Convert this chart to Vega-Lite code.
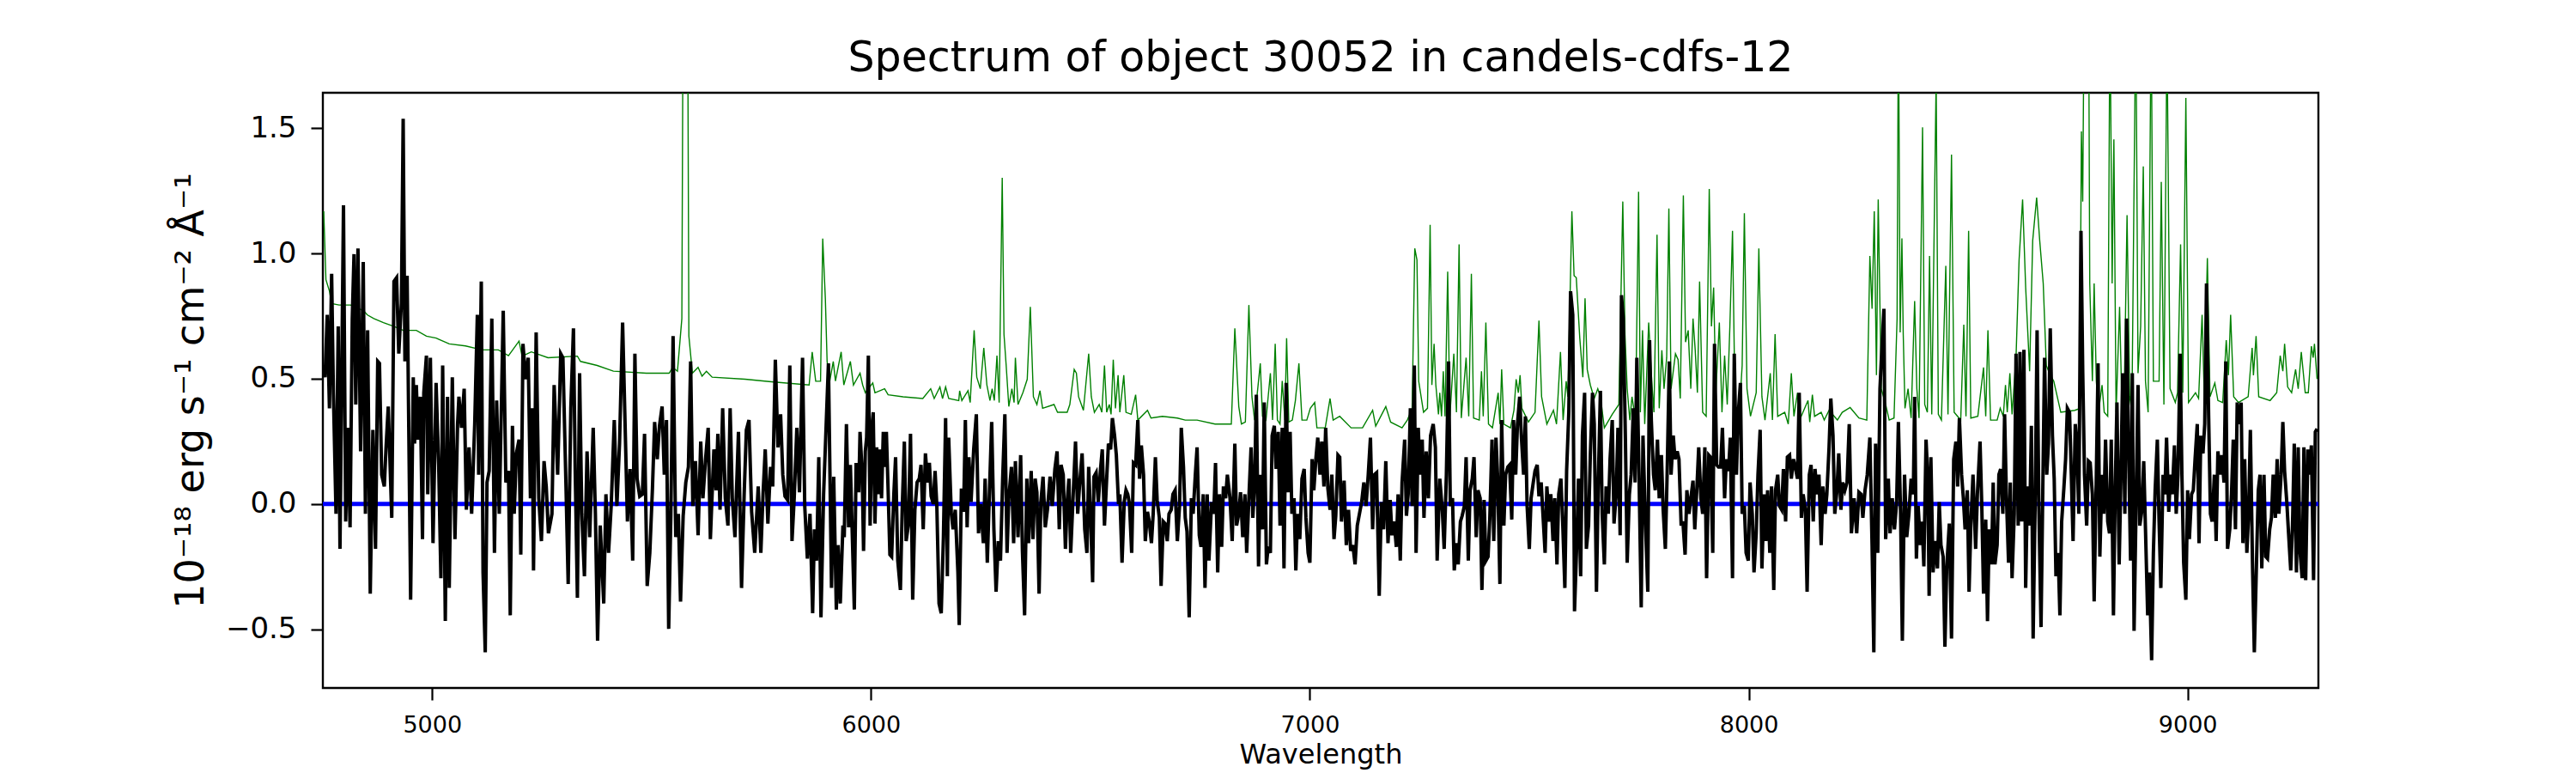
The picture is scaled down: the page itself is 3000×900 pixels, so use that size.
{
  "$schema": "https://vega.github.io/schema/vega-lite/v6.json",
  "description": "Spectrum of object 30052 in candels-cdfs-12: flux (black), noise (green), zero level (blue).",
  "autosize": "none",
  "width": 2324,
  "height": 693,
  "padding": {"left": 376, "top": 108, "right": 300, "bottom": 99},
  "background": "white",
  "title": {
    "text": "Spectrum of object 30052 in candels-cdfs-12",
    "font": "DejaVu Sans",
    "fontSize": 49,
    "fontWeight": "normal",
    "color": "black",
    "anchor": "middle",
    "baseline": "bottom",
    "offset": 14,
    "dy": 48
  },
  "config": {
    "view": {"stroke": "black", "strokeWidth": 2.4},
    "axis": {
      "domain": false,
      "grid": false,
      "tickColor": "black",
      "tickWidth": 2.2,
      "tickSize": 14,
      "labelColor": "black",
      "titleColor": "black",
      "labelFont": "DejaVu Sans",
      "titleFont": "DejaVu Sans",
      "titleFontWeight": "normal"
    }
  },
  "datasets": {
    "sky": [
      {"wavelength":4753,"sigma":1.168},{"wavelength":4758,"sigma":0.895},{"wavelength":4766,"sigma":0.85},{"wavelength":4771,"sigma":0.80},{"wavelength":4788,"sigma":0.794},{"wavelength":4814,"sigma":0.794},{"wavelength":4844,"sigma":0.771},{"wavelength":4852,"sigma":0.755},{"wavelength":4867,"sigma":0.74},{"wavelength":4889,"sigma":0.724},{"wavelength":4912,"sigma":0.709},{"wavelength":4934,"sigma":0.693},{"wavelength":4964,"sigma":0.693},{"wavelength":4987,"sigma":0.67},{"wavelength":5009,"sigma":0.662},{"wavelength":5039,"sigma":0.639},{"wavelength":5076,"sigma":0.631},{"wavelength":5114,"sigma":0.615},{"wavelength":5151,"sigma":0.615},{"wavelength":5174,"sigma":0.592},{"wavelength":5198,"sigma":0.65},{"wavelength":5205,"sigma":0.59},{"wavelength":5226,"sigma":0.607},{"wavelength":5264,"sigma":0.584},{"wavelength":5331,"sigma":0.59},{"wavelength":5338,"sigma":0.569},{"wavelength":5376,"sigma":0.553},{"wavelength":5413,"sigma":0.53},{"wavelength":5488,"sigma":0.522},{"wavelength":5540,"sigma":0.522},{"wavelength":5548,"sigma":0.545},{"wavelength":5559,"sigma":0.53},{"wavelength":5569,"sigma":0.74},{"wavelength":5573,"sigma":2.6},{"wavelength":5581,"sigma":2.6},{"wavelength":5585,"sigma":0.67},{"wavelength":5593,"sigma":0.522},{"wavelength":5606,"sigma":0.545},{"wavelength":5615,"sigma":0.51},{"wavelength":5625,"sigma":0.53},{"wavelength":5638,"sigma":0.506},{"wavelength":5713,"sigma":0.498},{"wavelength":5773,"sigma":0.488},{"wavelength":5859,"sigma":0.475},{"wavelength":5866,"sigma":0.607},{"wavelength":5874,"sigma":0.49},{"wavelength":5885,"sigma":0.49},{"wavelength":5890,"sigma":1.059},{"wavelength":5896,"sigma":0.818},{"wavelength":5900,"sigma":0.569},{"wavelength":5906,"sigma":0.491},{"wavelength":5914,"sigma":0.569},{"wavelength":5919,"sigma":0.491},{"wavelength":5932,"sigma":0.607},{"wavelength":5938,"sigma":0.475},{"wavelength":5953,"sigma":0.569},{"wavelength":5960,"sigma":0.475},{"wavelength":5975,"sigma":0.522},{"wavelength":5981,"sigma":0.475},{"wavelength":5987,"sigma":0.444},{"wavelength":6004,"sigma":0.483},{"wavelength":6009,"sigma":0.444},{"wavelength":6031,"sigma":0.46},{"wavelength":6039,"sigma":0.436},{"wavelength":6073,"sigma":0.428},{"wavelength":6118,"sigma":0.421},{"wavelength":6136,"sigma":0.46},{"wavelength":6144,"sigma":0.421},{"wavelength":6157,"sigma":0.467},{"wavelength":6163,"sigma":0.421},{"wavelength":6170,"sigma":0.467},{"wavelength":6177,"sigma":0.421},{"wavelength":6200,"sigma":0.413},{"wavelength":6202,"sigma":0.452},{"wavelength":6207,"sigma":0.413},{"wavelength":6221,"sigma":0.452},{"wavelength":6226,"sigma":0.405},{"wavelength":6235,"sigma":0.693},{"wavelength":6241,"sigma":0.506},{"wavelength":6249,"sigma":0.46},{"wavelength":6257,"sigma":0.623},{"wavelength":6264,"sigma":0.475},{"wavelength":6271,"sigma":0.413},{"wavelength":6276,"sigma":0.46},{"wavelength":6281,"sigma":0.413},{"wavelength":6287,"sigma":0.592},{"wavelength":6292,"sigma":0.405},{"wavelength":6299,"sigma":1.302},{"wavelength":6303,"sigma":0.677},{"wavelength":6308,"sigma":0.553},{"wavelength":6314,"sigma":0.389},{"wavelength":6321,"sigma":0.46},{"wavelength":6326,"sigma":0.405},{"wavelength":6329,"sigma":0.584},{"wavelength":6335,"sigma":0.397},{"wavelength":6346,"sigma":0.444},{"wavelength":6356,"sigma":0.498},{"wavelength":6363,"sigma":0.787},{"wavelength":6370,"sigma":0.428},{"wavelength":6378,"sigma":0.397},{"wavelength":6385,"sigma":0.452},{"wavelength":6391,"sigma":0.382},{"wavelength":6417,"sigma":0.397},{"wavelength":6425,"sigma":0.366},{"wavelength":6447,"sigma":0.366},{"wavelength":6453,"sigma":0.397},{"wavelength":6463,"sigma":0.537},{"wavelength":6468,"sigma":0.522},{"wavelength":6473,"sigma":0.428},{"wavelength":6484,"sigma":0.374},{"wavelength":6496,"sigma":0.6},{"wavelength":6502,"sigma":0.428},{"wavelength":6509,"sigma":0.366},{"wavelength":6520,"sigma":0.397},{"wavelength":6526,"sigma":0.366},{"wavelength":6532,"sigma":0.553},{"wavelength":6537,"sigma":0.366},{"wavelength":6543,"sigma":0.397},{"wavelength":6547,"sigma":0.358},{"wavelength":6552,"sigma":0.576},{"wavelength":6557,"sigma":0.382},{"wavelength":6563,"sigma":0.514},{"wavelength":6567,"sigma":0.366},{"wavelength":6576,"sigma":0.514},{"wavelength":6581,"sigma":0.366},{"wavelength":6593,"sigma":0.358},{"wavelength":6603,"sigma":0.436},{"wavelength":6608,"sigma":0.335},{"wavelength":6630,"sigma":0.374},{"wavelength":6638,"sigma":0.343},{"wavelength":6664,"sigma":0.35},{"wavelength":6698,"sigma":0.343},{"wavelength":6716,"sigma":0.335},{"wavelength":6743,"sigma":0.335},{"wavelength":6784,"sigma":0.319},{"wavelength":6821,"sigma":0.319},{"wavelength":6829,"sigma":0.701},{"wavelength":6838,"sigma":0.389},{"wavelength":6844,"sigma":0.319},{"wavelength":6853,"sigma":0.327},{"wavelength":6861,"sigma":0.794},{"wavelength":6868,"sigma":0.428},{"wavelength":6874,"sigma":0.335},{"wavelength":6887,"sigma":0.561},{"wavelength":6892,"sigma":0.35},{"wavelength":6900,"sigma":0.335},{"wavelength":6910,"sigma":0.522},{"wavelength":6915,"sigma":0.335},{"wavelength":6921,"sigma":0.639},{"wavelength":6926,"sigma":0.335},{"wavelength":6932,"sigma":0.319},{"wavelength":6937,"sigma":0.491},{"wavelength":6943,"sigma":0.335},{"wavelength":6947,"sigma":0.662},{"wavelength":6952,"sigma":0.327},{"wavelength":6960,"sigma":0.335},{"wavelength":6967,"sigma":0.413},{"wavelength":6975,"sigma":0.561},{"wavelength":6982,"sigma":0.335},{"wavelength":6993,"sigma":0.335},{"wavelength":7001,"sigma":0.382},{"wavelength":7011,"sigma":0.405},{"wavelength":7016,"sigma":0.304},{"wavelength":7035,"sigma":0.304},{"wavelength":7046,"sigma":0.421},{"wavelength":7053,"sigma":0.335},{"wavelength":7068,"sigma":0.35},{"wavelength":7094,"sigma":0.304},{"wavelength":7120,"sigma":0.304},{"wavelength":7143,"sigma":0.374},{"wavelength":7150,"sigma":0.311},{"wavelength":7173,"sigma":0.389},{"wavelength":7184,"sigma":0.327},{"wavelength":7210,"sigma":0.304},{"wavelength":7222,"sigma":0.335},{"wavelength":7233,"sigma":0.381},{"wavelength":7239,"sigma":1.02},{"wavelength":7244,"sigma":0.974},{"wavelength":7248,"sigma":0.49},{"wavelength":7259,"sigma":0.366},{"wavelength":7268,"sigma":0.382},{"wavelength":7274,"sigma":1.114},{"wavelength":7278,"sigma":0.475},{"wavelength":7283,"sigma":0.639},{"wavelength":7287,"sigma":0.475},{"wavelength":7293,"sigma":0.358},{"wavelength":7296,"sigma":0.444},{"wavelength":7300,"sigma":0.35},{"wavelength":7304,"sigma":0.53},{"wavelength":7308,"sigma":0.35},{"wavelength":7314,"sigma":0.927},{"wavelength":7319,"sigma":0.35},{"wavelength":7328,"sigma":0.6},{"wavelength":7334,"sigma":0.366},{"wavelength":7340,"sigma":1.036},{"wavelength":7345,"sigma":0.343},{"wavelength":7356,"sigma":0.584},{"wavelength":7362,"sigma":0.35},{"wavelength":7368,"sigma":0.919},{"wavelength":7373,"sigma":0.343},{"wavelength":7386,"sigma":0.335},{"wavelength":7391,"sigma":0.53},{"wavelength":7395,"sigma":0.35},{"wavelength":7401,"sigma":0.724},{"wavelength":7407,"sigma":0.319},{"wavelength":7416,"sigma":0.304},{"wavelength":7429,"sigma":0.444},{"wavelength":7433,"sigma":0.319},{"wavelength":7437,"sigma":0.537},{"wavelength":7442,"sigma":0.319},{"wavelength":7457,"sigma":0.304},{"wavelength":7465,"sigma":0.374},{"wavelength":7470,"sigma":0.498},{"wavelength":7475,"sigma":0.444},{"wavelength":7479,"sigma":0.514},{"wavelength":7483,"sigma":0.382},{"wavelength":7498,"sigma":0.327},{"wavelength":7513,"sigma":0.366},{"wavelength":7522,"sigma":0.732},{"wavelength":7528,"sigma":0.428},{"wavelength":7540,"sigma":0.319},{"wavelength":7555,"sigma":0.374},{"wavelength":7562,"sigma":0.319},{"wavelength":7571,"sigma":0.607},{"wavelength":7577,"sigma":0.335},{"wavelength":7584,"sigma":0.49},{"wavelength":7588,"sigma":0.428},{"wavelength":7597,"sigma":1.168},{"wavelength":7602,"sigma":0.911},{"wavelength":7607,"sigma":0.903},{"wavelength":7615,"sigma":0.662},{"wavelength":7622,"sigma":0.506},{"wavelength":7627,"sigma":0.821},{"wavelength":7632,"sigma":0.537},{"wavelength":7639,"sigma":0.475},{"wavelength":7648,"sigma":0.421},{"wavelength":7656,"sigma":0.46},{"wavelength":7662,"sigma":0.428},{"wavelength":7671,"sigma":0.304},{"wavelength":7689,"sigma":0.358},{"wavelength":7704,"sigma":0.397},{"wavelength":7713,"sigma":1.207},{"wavelength":7718,"sigma":0.677},{"wavelength":7723,"sigma":0.46},{"wavelength":7729,"sigma":0.335},{"wavelength":7734,"sigma":0.428},{"wavelength":7742,"sigma":0.335},{"wavelength":7749,"sigma":1.246},{"wavelength":7753,"sigma":0.366},{"wavelength":7758,"sigma":0.693},{"wavelength":7763,"sigma":0.319},{"wavelength":7772,"sigma":0.724},{"wavelength":7779,"sigma":0.49},{"wavelength":7784,"sigma":0.366},{"wavelength":7791,"sigma":1.075},{"wavelength":7796,"sigma":0.382},{"wavelength":7802,"sigma":0.614},{"wavelength":7807,"sigma":0.46},{"wavelength":7813,"sigma":0.584},{"wavelength":7818,"sigma":1.179},{"wavelength":7823,"sigma":0.46},{"wavelength":7833,"sigma":0.6},{"wavelength":7839,"sigma":0.576},{"wavelength":7844,"sigma":0.421},{"wavelength":7851,"sigma":1.231},{"wavelength":7856,"sigma":0.646},{"wavelength":7862,"sigma":0.693},{"wavelength":7868,"sigma":0.46},{"wavelength":7873,"sigma":0.74},{"wavelength":7878,"sigma":0.615},{"wavelength":7883,"sigma":0.444},{"wavelength":7888,"sigma":0.888},{"wavelength":7895,"sigma":0.366},{"wavelength":7903,"sigma":0.35},{"wavelength":7910,"sigma":1.257},{"wavelength":7915,"sigma":0.709},{"wavelength":7920,"sigma":0.864},{"wavelength":7925,"sigma":0.444},{"wavelength":7933,"sigma":0.724},{"wavelength":7939,"sigma":0.366},{"wavelength":7945,"sigma":0.592},{"wavelength":7951,"sigma":0.397},{"wavelength":7957,"sigma":0.709},{"wavelength":7963,"sigma":1.09},{"wavelength":7969,"sigma":0.366},{"wavelength":7978,"sigma":0.35},{"wavelength":7985,"sigma":0.553},{"wavelength":7990,"sigma":1.16},{"wavelength":7996,"sigma":0.46},{"wavelength":8004,"sigma":0.35},{"wavelength":8017,"sigma":0.444},{"wavelength":8023,"sigma":1.02},{"wavelength":8030,"sigma":0.428},{"wavelength":8037,"sigma":0.335},{"wavelength":8049,"sigma":0.522},{"wavelength":8054,"sigma":0.335},{"wavelength":8060,"sigma":0.678},{"wavelength":8066,"sigma":0.35},{"wavelength":8082,"sigma":0.366},{"wavelength":8090,"sigma":0.319},{"wavelength":8097,"sigma":0.522},{"wavelength":8103,"sigma":0.35},{"wavelength":8111,"sigma":0.444},{"wavelength":8116,"sigma":0.335},{"wavelength":8135,"sigma":0.413},{"wavelength":8139,"sigma":0.327},{"wavelength":8145,"sigma":0.436},{"wavelength":8150,"sigma":0.35},{"wavelength":8165,"sigma":0.366},{"wavelength":8172,"sigma":0.335},{"wavelength":8183,"sigma":0.374},{"wavelength":8202,"sigma":0.335},{"wavelength":8213,"sigma":0.366},{"wavelength":8231,"sigma":0.385},{"wavelength":8251,"sigma":0.343},{"wavelength":8269,"sigma":0.335},{"wavelength":8276,"sigma":0.99},{"wavelength":8281,"sigma":0.779},{"wavelength":8286,"sigma":1.168},{"wavelength":8291,"sigma":0.514},{"wavelength":8295,"sigma":1.215},{"wavelength":8302,"sigma":0.46},{"wavelength":8312,"sigma":0.397},{"wavelength":8320,"sigma":0.335},{"wavelength":8331,"sigma":0.343},{"wavelength":8338,"sigma":0.74},{"wavelength":8341,"sigma":2.0},{"wavelength":8345,"sigma":0.685},{"wavelength":8349,"sigma":1.06},{"wavelength":8352,"sigma":0.678},{"wavelength":8356,"sigma":0.382},{"wavelength":8363,"sigma":0.46},{"wavelength":8370,"sigma":0.343},{"wavelength":8378,"sigma":0.81},{"wavelength":8383,"sigma":0.46},{"wavelength":8388,"sigma":0.343},{"wavelength":8396,"sigma":1.503},{"wavelength":8401,"sigma":0.397},{"wavelength":8407,"sigma":0.366},{"wavelength":8412,"sigma":0.99},{"wavelength":8417,"sigma":0.358},{"wavelength":8427,"sigma":1.7},{"wavelength":8432,"sigma":0.358},{"wavelength":8439,"sigma":0.335},{"wavelength":8449,"sigma":0.95},{"wavelength":8454,"sigma":0.358},{"wavelength":8462,"sigma":1.394},{"wavelength":8468,"sigma":0.366},{"wavelength":8483,"sigma":0.335},{"wavelength":8490,"sigma":0.716},{"wavelength":8495,"sigma":0.35},{"wavelength":8501,"sigma":1.09},{"wavelength":8506,"sigma":0.343},{"wavelength":8522,"sigma":0.35},{"wavelength":8535,"sigma":0.545},{"wavelength":8540,"sigma":0.35},{"wavelength":8545,"sigma":0.693},{"wavelength":8551,"sigma":0.335},{"wavelength":8566,"sigma":0.335},{"wavelength":8573,"sigma":0.382},{"wavelength":8580,"sigma":0.35},{"wavelength":8585,"sigma":0.475},{"wavelength":8589,"sigma":0.366},{"wavelength":8595,"sigma":0.522},{"wavelength":8600,"sigma":0.358},{"wavelength":8609,"sigma":0.584},{"wavelength":8616,"sigma":0.974},{"wavelength":8624,"sigma":1.215},{"wavelength":8631,"sigma":0.864},{"wavelength":8640,"sigma":0.53},{"wavelength":8647,"sigma":1.051},{"wavelength":8656,"sigma":1.223},{"wavelength":8663,"sigma":1.051},{"wavelength":8671,"sigma":0.88},{"wavelength":8678,"sigma":0.553},{"wavelength":8685,"sigma":0.522},{"wavelength":8695,"sigma":0.49},{"wavelength":8703,"sigma":0.428},{"wavelength":8711,"sigma":0.366},{"wavelength":8743,"sigma":0.374},{"wavelength":8754,"sigma":0.381},{"wavelength":8758,"sigma":1.487},{"wavelength":8761,"sigma":1.207},{"wavelength":8765,"sigma":2.2},{"wavelength":8774,"sigma":2.2},{"wavelength":8777,"sigma":0.88},{"wavelength":8783,"sigma":0.49},{"wavelength":8787,"sigma":0.88},{"wavelength":8792,"sigma":0.49},{"wavelength":8797,"sigma":0.366},{"wavelength":8805,"sigma":0.475},{"wavelength":8810,"sigma":0.366},{"wavelength":8818,"sigma":0.35},{"wavelength":8823,"sigma":2.0},{"wavelength":8828,"sigma":0.88},{"wavelength":8832,"sigma":1.455},{"wavelength":8837,"sigma":0.366},{"wavelength":8845,"sigma":0.787},{"wavelength":8850,"sigma":0.413},{"wavelength":8855,"sigma":0.366},{"wavelength":8862,"sigma":1.153},{"wavelength":8868,"sigma":0.428},{"wavelength":8873,"sigma":0.366},{"wavelength":8882,"sigma":2.0},{"wavelength":8887,"sigma":0.522},{"wavelength":8893,"sigma":0.709},{"wavelength":8899,"sigma":1.347},{"wavelength":8904,"sigma":0.49},{"wavelength":8910,"sigma":0.366},{"wavelength":8917,"sigma":2.0},{"wavelength":8922,"sigma":0.49},{"wavelength":8935,"sigma":0.49},{"wavelength":8940,"sigma":1.285},{"wavelength":8946,"sigma":0.397},{"wavelength":8953,"sigma":1.9},{"wavelength":8960,"sigma":0.46},{"wavelength":8972,"sigma":0.405},{"wavelength":8977,"sigma":0.444},{"wavelength":8984,"sigma":1.036},{"wavelength":8989,"sigma":0.444},{"wavelength":8996,"sigma":1.62},{"wavelength":9002,"sigma":0.405},{"wavelength":9018,"sigma":0.444},{"wavelength":9025,"sigma":0.421},{"wavelength":9033,"sigma":0.755},{"wavelength":9038,"sigma":0.428},{"wavelength":9045,"sigma":0.981},{"wavelength":9051,"sigma":0.428},{"wavelength":9062,"sigma":0.483},{"wavelength":9069,"sigma":0.413},{"wavelength":9080,"sigma":0.405},{"wavelength":9088,"sigma":0.654},{"wavelength":9093,"sigma":0.514},{"wavelength":9098,"sigma":0.755},{"wavelength":9105,"sigma":0.428},{"wavelength":9116,"sigma":0.405},{"wavelength":9138,"sigma":0.428},{"wavelength":9147,"sigma":0.623},{"wavelength":9150,"sigma":0.514},{"wavelength":9156,"sigma":0.67},{"wavelength":9162,"sigma":0.428},{"wavelength":9188,"sigma":0.413},{"wavelength":9203,"sigma":0.444},{"wavelength":9211,"sigma":0.592},{"wavelength":9217,"sigma":0.53},{"wavelength":9221,"sigma":0.639},{"wavelength":9228,"sigma":0.467},{"wavelength":9237,"sigma":0.444},{"wavelength":9246,"sigma":0.537},{"wavelength":9252,"sigma":0.46},{"wavelength":9259,"sigma":0.607},{"wavelength":9268,"sigma":0.444},{"wavelength":9275,"sigma":0.444},{"wavelength":9282,"sigma":0.63},{"wavelength":9286,"sigma":0.584},{"wavelength":9289,"sigma":0.639},{"wavelength":9295,"sigma":0.499}
    ],
    "flux": [
      {"wavelength":4751,"flux":0.553},{"wavelength":4756,"flux":0.506},{"wavelength":4761,"flux":0.755},{"wavelength":4766,"flux":0.382},{"wavelength":4771,"flux":0.919},{"wavelength":4775,"flux":0.444},{"wavelength":4781,"flux":-0.039},{"wavelength":4786,"flux":0.709},{"wavelength":4790,"flux":-0.179},{"wavelength":4798,"flux":1.192},{"wavelength":4803,"flux":-0.07},{"wavelength":4808,"flux":0.304},{"wavelength":4813,"flux":-0.093},{"wavelength":4818,"flux":0.74},{"wavelength":4822,"flux":0.997},{"wavelength":4826,"flux":0.397},{"wavelength":4831,"flux":1.02},{"wavelength":4837,"flux":0.21},{"wavelength":4843,"flux":0.966},{"wavelength":4848,"flux":-0.039},{"wavelength":4853,"flux":0.693},{"wavelength":4859,"flux":-0.358},{"wavelength":4865,"flux":0.296},{"wavelength":4871,"flux":-0.179},{"wavelength":4876,"flux":0.569},{"wavelength":4880,"flux":0.561},{"wavelength":4885,"flux":0.117},{"wavelength":4891,"flux":0.07},{"wavelength":4895,"flux":0.226},{"wavelength":4900,"flux":0.389},{"wavelength":4908,"flux":-0.055},{"wavelength":4913,"flux":0.888},{"wavelength":4919,"flux":0.903},{"wavelength":4924,"flux":0.6},{"wavelength":4930,"flux":0.802},{"wavelength":4934,"flux":1.537},{"wavelength":4938,"flux":0.569},{"wavelength":4943,"flux":0.911},{"wavelength":4951,"flux":-0.382},{"wavelength":4957,"flux":0.506},{"wavelength":4960,"flux":0.241},{"wavelength":4964,"flux":0.475},{"wavelength":4968,"flux":0.257},{"wavelength":4973,"flux":0.428},{"wavelength":4978,"flux":-0.14},{"wavelength":4981,"flux":0.444},{"wavelength":4987,"flux":0.592},{"wavelength":4990,"flux":0.039},{"wavelength":4996,"flux":0.584},{"wavelength":5002,"flux":-0.156},{"wavelength":5009,"flux":0.483},{"wavelength":5015,"flux":0.148},{"wavelength":5020,"flux":-0.296},{"wavelength":5024,"flux":0.553},{"wavelength":5030,"flux":-0.467},{"wavelength":5035,"flux":0.428},{"wavelength":5039,"flux":-0.335},{"wavelength":5046,"flux":0.506},{"wavelength":5052,"flux":-0.14},{"wavelength":5058,"flux":0.319},{"wavelength":5061,"flux":0.428},{"wavelength":5067,"flux":0.304},{"wavelength":5073,"flux":0.46},{"wavelength":5078,"flux":-0.023},{"wavelength":5084,"flux":0.226},{"wavelength":5090,"flux":-0.039},{"wavelength":5097,"flux":0.319},{"wavelength":5103,"flux":0.755},{"wavelength":5106,"flux":0.117},{"wavelength":5112,"flux":0.888},{"wavelength":5116,"flux":-0.273},{"wavelength":5121,"flux":-0.592},{"wavelength":5125,"flux":0.086},{"wavelength":5130,"flux":0.132},{"wavelength":5136,"flux":0.74},{"wavelength":5142,"flux":-0.195},{"wavelength":5147,"flux":0.413},{"wavelength":5153,"flux":-0.039},{"wavelength":5157,"flux":0.319},{"wavelength":5162,"flux":0.771},{"wavelength":5168,"flux":0.086},{"wavelength":5174,"flux":0.132},{"wavelength":5178,"flux":-0.444},{"wavelength":5183,"flux":0.312},{"wavelength":5187,"flux":-0.039},{"wavelength":5192,"flux":0.202},{"wavelength":5198,"flux":0.257},{"wavelength":5202,"flux":-0.202},{"wavelength":5207,"flux":0.639},{"wavelength":5213,"flux":0.498},{"wavelength":5219,"flux":0.584},{"wavelength":5224,"flux":0.023},{"wavelength":5228,"flux":0.382},{"wavelength":5231,"flux":-0.265},{"wavelength":5237,"flux":0.685},{"wavelength":5243,"flux":0.023},{"wavelength":5249,"flux":-0.148},{"wavelength":5255,"flux":0.171},{"wavelength":5260,"flux":0.07},{"wavelength":5265,"flux":-0.117},{"wavelength":5273,"flux":-0.039},{"wavelength":5278,"flux":0.475},{"wavelength":5286,"flux":0.117},{"wavelength":5293,"flux":0.6},{"wavelength":5298,"flux":0.584},{"wavelength":5305,"flux":0.07},{"wavelength":5310,"flux":-0.319},{"wavelength":5316,"flux":0.382},{"wavelength":5322,"flux":0.701},{"wavelength":5326,"flux":0.132},{"wavelength":5331,"flux":-0.374},{"wavelength":5336,"flux":0.522},{"wavelength":5341,"flux":-0.039},{"wavelength":5347,"flux":-0.288},{"wavelength":5353,"flux":0.21},{"wavelength":5359,"flux":-0.132},{"wavelength":5367,"flux":0.304},{"wavelength":5372,"flux":-0.039},{"wavelength":5377,"flux":-0.545},{"wavelength":5383,"flux":-0.086},{"wavelength":5391,"flux":-0.397},{"wavelength":5396,"flux":0.039},{"wavelength":5402,"flux":-0.195},{"wavelength":5408,"flux":-0.008},{"wavelength":5415,"flux":0.335},{"wavelength":5421,"flux":-0.008},{"wavelength":5427,"flux":0.241},{"wavelength":5434,"flux":0.724},{"wavelength":5439,"flux":0.366},{"wavelength":5445,"flux":-0.07},{"wavelength":5451,"flux":0.14},{"wavelength":5457,"flux":-0.226},{"wavelength":5462,"flux":0.6},{"wavelength":5467,"flux":0.101},{"wavelength":5473,"flux":0.031},{"wavelength":5479,"flux":0.039},{"wavelength":5484,"flux":0.28},{"wavelength":5490,"flux":-0.327},{"wavelength":5496,"flux":-0.195},{"wavelength":5502,"flux":0.062},{"wavelength":5507,"flux":0.327},{"wavelength":5513,"flux":0.179},{"wavelength":5518,"flux":0.312},{"wavelength":5524,"flux":0.389},{"wavelength":5529,"flux":0.117},{"wavelength":5534,"flux":0.335},{"wavelength":5539,"flux":-0.498},{"wavelength":5544,"flux":-0.039},{"wavelength":5549,"flux":0.67},{"wavelength":5555,"flux":-0.132},{"wavelength":5561,"flux":-0.039},{"wavelength":5566,"flux":-0.389},{"wavelength":5572,"flux":-0.047},{"wavelength":5578,"flux":0.086},{"wavelength":5584,"flux":0.148},{"wavelength":5589,"flux":0.569},{"wavelength":5594,"flux":-0.008},{"wavelength":5600,"flux":0.171},{"wavelength":5606,"flux":-0.125},{"wavelength":5612,"flux":0.249},{"wavelength":5617,"flux":0.023},{"wavelength":5623,"flux":0.179},{"wavelength":5629,"flux":0.304},{"wavelength":5634,"flux":-0.14},{"wavelength":5642,"flux":0.218},{"wavelength":5647,"flux":0.055},{"wavelength":5651,"flux":0.28},{"wavelength":5656,"flux":-0.023},{"wavelength":5662,"flux":0.382},{"wavelength":5668,"flux":0.023},{"wavelength":5674,"flux":-0.086},{"wavelength":5679,"flux":0.382},{"wavelength":5684,"flux":0.023},{"wavelength":5690,"flux":-0.132},{"wavelength":5698,"flux":0.288},{"wavelength":5705,"flux":-0.335},{"wavelength":5711,"flux":0.039},{"wavelength":5716,"flux":0.296},{"wavelength":5722,"flux":0.335},{"wavelength":5728,"flux":-0.031},{"wavelength":5735,"flux":-0.195},{"wavelength":5743,"flux":0.07},{"wavelength":5749,"flux":-0.195},{"wavelength":5754,"flux":0.039},{"wavelength":5759,"flux":0.218},{"wavelength":5765,"flux":-0.078},{"wavelength":5771,"flux":0.148},{"wavelength":5776,"flux":0.07},{"wavelength":5782,"flux":0.576},{"wavelength":5788,"flux":0.226},{"wavelength":5794,"flux":0.358},{"wavelength":5799,"flux":0.117},{"wavelength":5804,"flux":0.031},{"wavelength":5810,"flux":0.016},{"wavelength":5815,"flux":0.553},{"wavelength":5820,"flux":-0.148},{"wavelength":5825,"flux":0.023},{"wavelength":5831,"flux":0.304},{"wavelength":5837,"flux":0.047},{"wavelength":5844,"flux":0.584},{"wavelength":5849,"flux":-0.008},{"wavelength":5855,"flux":-0.218},{"wavelength":5861,"flux":-0.039},{"wavelength":5867,"flux":-0.436},{"wavelength":5871,"flux":-0.101},{"wavelength":5876,"flux":-0.226},{"wavelength":5881,"flux":0.187},{"wavelength":5886,"flux":-0.452},{"wavelength":5892,"flux":0.039},{"wavelength":5903,"flux":0.561},{"wavelength":5910,"flux":-0.335},{"wavelength":5915,"flux":0.109},{"wavelength":5921,"flux":-0.421},{"wavelength":5925,"flux":-0.164},{"wavelength":5930,"flux":-0.397},{"wavelength":5936,"flux":-0.086},{"wavelength":5939,"flux":-0.132},{"wavelength":5944,"flux":0.319},{"wavelength":5949,"flux":-0.093},{"wavelength":5953,"flux":0.156},{"wavelength":5957,"flux":-0.101},{"wavelength":5962,"flux":-0.421},{"wavelength":5966,"flux":0.164},{"wavelength":5972,"flux":0.047},{"wavelength":5975,"flux":0.288},{"wavelength":5980,"flux":0.117},{"wavelength":5983,"flux":-0.187},{"wavelength":5987,"flux":0.21},{"wavelength":5990,"flux":0.265},{"wavelength":5994,"flux":0.592},{"wavelength":5998,"flux":-0.086},{"wavelength":6002,"flux":0.304},{"wavelength":6005,"flux":0.366},{"wavelength":6009,"flux":-0.078},{"wavelength":6013,"flux":0.226},{"wavelength":6017,"flux":0.039},{"wavelength":6020,"flux":0.218},{"wavelength":6024,"flux":0.023},{"wavelength":6028,"flux":0.288},{"wavelength":6031,"flux":0.148},{"wavelength":6035,"flux":0.288},{"wavelength":6039,"flux":0.055},{"wavelength":6043,"flux":-0.202},{"wavelength":6047,"flux":-0.21},{"wavelength":6052,"flux":0.039},{"wavelength":6056,"flux":0.187},{"wavelength":6061,"flux":-0.226},{"wavelength":6067,"flux":-0.343},{"wavelength":6071,"flux":-0.023},{"wavelength":6076,"flux":0.249},{"wavelength":6080,"flux":-0.148},{"wavelength":6085,"flux":-0.086},{"wavelength":6090,"flux":0.28},{"wavelength":6095,"flux":-0.382},{"wavelength":6100,"flux":-0.023},{"wavelength":6105,"flux":0.086},{"wavelength":6110,"flux":0.101},{"wavelength":6114,"flux":0.156},{"wavelength":6119,"flux":-0.101},{"wavelength":6124,"flux":0.202},{"wavelength":6129,"flux":0.086},{"wavelength":6133,"flux":0.164},{"wavelength":6137,"flux":0.031},{"wavelength":6142,"flux":0.0},{"wavelength":6146,"flux":0.132},{"wavelength":6150,"flux":-0.008},{"wavelength":6155,"flux":-0.397},{"wavelength":6160,"flux":-0.436},{"wavelength":6165,"flux":-0.132},{"wavelength":6170,"flux":0.343},{"wavelength":6174,"flux":-0.288},{"wavelength":6177,"flux":0.265},{"wavelength":6183,"flux":-0.039},{"wavelength":6187,"flux":-0.101},{"wavelength":6192,"flux":-0.023},{"wavelength":6198,"flux":-0.273},{"wavelength":6201,"flux":-0.483},{"wavelength":6206,"flux":0.062},{"wavelength":6211,"flux":-0.031},{"wavelength":6215,"flux":0.335},{"wavelength":6219,"flux":-0.093},{"wavelength":6223,"flux":0.187},{"wavelength":6228,"flux":0.008},{"wavelength":6234,"flux":0.218},{"wavelength":6240,"flux":0.358},{"wavelength":6245,"flux":-0.117},{"wavelength":6250,"flux":0.0},{"wavelength":6256,"flux":-0.156},{"wavelength":6260,"flux":0.101},{"wavelength":6265,"flux":-0.234},{"wavelength":6270,"flux":0.055},{"wavelength":6275,"flux":0.327},{"wavelength":6280,"flux":-0.101},{"wavelength":6285,"flux":-0.35},{"wavelength":6290,"flux":-0.148},{"wavelength":6295,"flux":-0.226},{"wavelength":6300,"flux":0.101},{"wavelength":6305,"flux":0.358},{"wavelength":6310,"flux":-0.195},{"wavelength":6314,"flux":0.023},{"wavelength":6320,"flux":0.148},{"wavelength":6325,"flux":-0.156},{"wavelength":6329,"flux":0.171},{"wavelength":6335,"flux":-0.132},{"wavelength":6341,"flux":0.195},{"wavelength":6345,"flux":-0.187},{"wavelength":6350,"flux":-0.444},{"wavelength":6355,"flux":0.101},{"wavelength":6359,"flux":-0.156},{"wavelength":6365,"flux":0.132},{"wavelength":6369,"flux":-0.14},{"wavelength":6374,"flux":0.101},{"wavelength":6378,"flux":0.047},{"wavelength":6383,"flux":-0.358},{"wavelength":6387,"flux":0.008},{"wavelength":6392,"flux":0.109},{"wavelength":6397,"flux":-0.093},{"wavelength":6402,"flux":-0.023},{"wavelength":6408,"flux":0.109},{"wavelength":6413,"flux":-0.008},{"wavelength":6419,"flux":0.14},{"wavelength":6424,"flux":0.21},{"wavelength":6429,"flux":-0.101},{"wavelength":6433,"flux":0.156},{"wavelength":6438,"flux":0.117},{"wavelength":6443,"flux":-0.179},{"wavelength":6447,"flux":0.008},{"wavelength":6451,"flux":0.101},{"wavelength":6455,"flux":-0.195},{"wavelength":6460,"flux":0.008},{"wavelength":6466,"flux":0.249},{"wavelength":6471,"flux":-0.039},{"wavelength":6475,"flux":0.07},{"wavelength":6481,"flux":0.202},{"wavelength":6487,"flux":-0.101},{"wavelength":6492,"flux":-0.195},{"wavelength":6496,"flux":0.148},{"wavelength":6501,"flux":-0.086},{"wavelength":6505,"flux":-0.312},{"wavelength":6508,"flux":0.109},{"wavelength":6513,"flux":0.125},{"wavelength":6518,"flux":0.008},{"wavelength":6523,"flux":0.14},{"wavelength":6527,"flux":0.218},{"wavelength":6532,"flux":-0.086},{"wavelength":6537,"flux":0.101},{"wavelength":6541,"flux":0.241},{"wavelength":6546,"flux":0.218},{"wavelength":6550,"flux":0.343},{"wavelength":6555,"flux":0.273},{"wavelength":6559,"flux":0.195},{"wavelength":6564,"flux":0.0},{"wavelength":6567,"flux":0.039},{"wavelength":6572,"flux":-0.234},{"wavelength":6577,"flux":0.008},{"wavelength":6581,"flux":0.055},{"wavelength":6585,"flux":0.039},{"wavelength":6589,"flux":0.0},{"wavelength":6594,"flux":-0.195},{"wavelength":6598,"flux":0.164},{"wavelength":6603,"flux":0.156},{"wavelength":6608,"flux":0.335},{"wavelength":6612,"flux":0.101},{"wavelength":6616,"flux":0.234},{"wavelength":6621,"flux":0.117},{"wavelength":6625,"flux":-0.148},{"wavelength":6630,"flux":-0.031},{"wavelength":6634,"flux":-0.07},{"wavelength":6639,"flux":-0.156},{"wavelength":6643,"flux":-0.039},{"wavelength":6648,"flux":0.187},{"wavelength":6652,"flux":0.016},{"wavelength":6657,"flux":-0.055},{"wavelength":6661,"flux":-0.327},{"wavelength":6666,"flux":-0.07},{"wavelength":6670,"flux":-0.078},{"wavelength":6675,"flux":-0.148},{"wavelength":6679,"flux":-0.039},{"wavelength":6684,"flux":-0.023},{"wavelength":6688,"flux":0.039},{"wavelength":6693,"flux":0.055},{"wavelength":6698,"flux":-0.148},{"wavelength":6703,"flux":-0.008},{"wavelength":6707,"flux":0.304},{"wavelength":6712,"flux":0.148},{"wavelength":6716,"flux":-0.055},{"wavelength":6720,"flux":-0.109},{"wavelength":6725,"flux":-0.452},{"wavelength":6730,"flux":0.023},{"wavelength":6734,"flux":-0.039},{"wavelength":6739,"flux":0.117},{"wavelength":6743,"flux":0.226},{"wavelength":6748,"flux":-0.125},{"wavelength":6752,"flux":-0.171},{"wavelength":6757,"flux":0.039},{"wavelength":6761,"flux":-0.335},{"wavelength":6766,"flux":0.039},{"wavelength":6770,"flux":-0.226},{"wavelength":6776,"flux":0.008},{"wavelength":6781,"flux":-0.039},{"wavelength":6785,"flux":0.164},{"wavelength":6790,"flux":-0.273},{"wavelength":6794,"flux":0.039},{"wavelength":6799,"flux":-0.171},{"wavelength":6803,"flux":0.07},{"wavelength":6808,"flux":0.023},{"wavelength":6812,"flux":0.117},{"wavelength":6818,"flux":0.023},{"wavelength":6823,"flux":-0.148},{"wavelength":6829,"flux":0.241},{"wavelength":6833,"flux":-0.086},{"wavelength":6838,"flux":-0.039},{"wavelength":6842,"flux":0.047},{"wavelength":6847,"flux":-0.132},{"wavelength":6852,"flux":0.039},{"wavelength":6856,"flux":-0.195},{"wavelength":6861,"flux":0.023},{"wavelength":6866,"flux":0.226},{"wavelength":6870,"flux":-0.055},{"wavelength":6874,"flux":0.078},{"wavelength":6878,"flux":0.436},{"wavelength":6883,"flux":-0.249},{"wavelength":6887,"flux":0.117},{"wavelength":6892,"flux":-0.101},{"wavelength":6896,"flux":0.405},{"wavelength":6901,"flux":-0.241},{"wavelength":6905,"flux":-0.171},{"wavelength":6910,"flux":-0.195},{"wavelength":6914,"flux":0.273},{"wavelength":6919,"flux":0.312},{"wavelength":6923,"flux":0.14},{"wavelength":6928,"flux":0.288},{"wavelength":6932,"flux":-0.086},{"wavelength":6937,"flux":0.304},{"wavelength":6941,"flux":-0.257},{"wavelength":6946,"flux":0.483},{"wavelength":6950,"flux":0.047},{"wavelength":6955,"flux":0.288},{"wavelength":6959,"flux":-0.039},{"wavelength":6964,"flux":0.023},{"wavelength":6968,"flux":-0.265},{"wavelength":6972,"flux":-0.039},{"wavelength":6977,"flux":-0.14},{"wavelength":6982,"flux":0.101},{"wavelength":6987,"flux":0.14},{"wavelength":6991,"flux":-0.055},{"wavelength":6996,"flux":-0.195},{"wavelength":7000,"flux":-0.234},{"wavelength":7005,"flux":0.179},{"wavelength":7009,"flux":0.055},{"wavelength":7014,"flux":0.187},{"wavelength":7018,"flux":0.265},{"wavelength":7023,"flux":0.117},{"wavelength":7027,"flux":0.249},{"wavelength":7032,"flux":0.07},{"wavelength":7036,"flux":0.304},{"wavelength":7041,"flux":0.062},{"wavelength":7046,"flux":-0.023},{"wavelength":7050,"flux":0.117},{"wavelength":7055,"flux":-0.14},{"wavelength":7059,"flux":-0.047},{"wavelength":7064,"flux":0.195},{"wavelength":7068,"flux":0.187},{"wavelength":7072,"flux":-0.07},{"wavelength":7078,"flux":0.093},{"wavelength":7083,"flux":-0.164},{"wavelength":7088,"flux":-0.023},{"wavelength":7093,"flux":-0.187},{"wavelength":7098,"flux":-0.164},{"wavelength":7103,"flux":-0.241},{"wavelength":7108,"flux":-0.086},{"wavelength":7113,"flux":-0.039},{"wavelength":7118,"flux":0.008},{"wavelength":7123,"flux":0.086},{"wavelength":7128,"flux":-0.008},{"wavelength":7133,"flux":0.117},{"wavelength":7138,"flux":0.265},{"wavelength":7143,"flux":-0.101},{"wavelength":7147,"flux":0.117},{"wavelength":7152,"flux":0.125},{"wavelength":7158,"flux":-0.366},{"wavelength":7163,"flux":0.008},{"wavelength":7168,"flux":-0.101},{"wavelength":7173,"flux":0.171},{"wavelength":7178,"flux":-0.156},{"wavelength":7183,"flux":0.016},{"wavelength":7187,"flux":-0.125},{"wavelength":7192,"flux":-0.07},{"wavelength":7197,"flux":-0.171},{"wavelength":7201,"flux":0.039},{"wavelength":7206,"flux":-0.226},{"wavelength":7210,"flux":0.086},{"wavelength":7216,"flux":0.257},{"wavelength":7220,"flux":-0.047},{"wavelength":7224,"flux":0.039},{"wavelength":7229,"flux":0.382},{"wavelength":7233,"flux":-0.008},{"wavelength":7238,"flux":0.553},{"wavelength":7242,"flux":-0.195},{"wavelength":7247,"flux":0.304},{"wavelength":7251,"flux":0.117},{"wavelength":7256,"flux":0.257},{"wavelength":7260,"flux":-0.055},{"wavelength":7265,"flux":0.21},{"wavelength":7270,"flux":0.023},{"wavelength":7275,"flux":0.273},{"wavelength":7281,"flux":0.319},{"wavelength":7286,"flux":0.226},{"wavelength":7290,"flux":-0.226},{"wavelength":7296,"flux":0.101},{"wavelength":7302,"flux":-0.031},{"wavelength":7306,"flux":-0.179},{"wavelength":7311,"flux":0.117},{"wavelength":7316,"flux":0.569},{"wavelength":7320,"flux":-0.008},{"wavelength":7325,"flux":0.023},{"wavelength":7329,"flux":-0.265},{"wavelength":7334,"flux":-0.156},{"wavelength":7338,"flux":-0.241},{"wavelength":7343,"flux":-0.07},{"wavelength":7347,"flux":-0.047},{"wavelength":7352,"flux":-0.008},{"wavelength":7356,"flux":0.187},{"wavelength":7361,"flux":-0.226},{"wavelength":7365,"flux":0.055},{"wavelength":7370,"flux":0.101},{"wavelength":7374,"flux":0.187},{"wavelength":7379,"flux":-0.132},{"wavelength":7383,"flux":0.055},{"wavelength":7388,"flux":0.023},{"wavelength":7392,"flux":-0.343},{"wavelength":7397,"flux":0.016},{"wavelength":7401,"flux":-0.226},{"wavelength":7406,"flux":-0.21},{"wavelength":7410,"flux":-0.055},{"wavelength":7415,"flux":0.257},{"wavelength":7419,"flux":-0.148},{"wavelength":7424,"flux":0.265},{"wavelength":7428,"flux":0.101},{"wavelength":7433,"flux":-0.319},{"wavelength":7437,"flux":0.335},{"wavelength":7442,"flux":-0.086},{"wavelength":7446,"flux":0.117},{"wavelength":7451,"flux":0.148},{"wavelength":7455,"flux":0.156},{"wavelength":7460,"flux":-0.062},{"wavelength":7464,"flux":0.335},{"wavelength":7469,"flux":0.117},{"wavelength":7473,"flux":0.319},{"wavelength":7478,"flux":0.428},{"wavelength":7482,"flux":0.265},{"wavelength":7487,"flux":0.117},{"wavelength":7491,"flux":0.35},{"wavelength":7495,"flux":-0.008},{"wavelength":7500,"flux":-0.179},{"wavelength":7504,"flux":0.023},{"wavelength":7509,"flux":0.086},{"wavelength":7513,"flux":0.132},{"wavelength":7518,"flux":0.156},{"wavelength":7522,"flux":0.031},{"wavelength":7527,"flux":0.086},{"wavelength":7531,"flux":-0.039},{"wavelength":7536,"flux":-0.195},{"wavelength":7540,"flux":0.07},{"wavelength":7545,"flux":-0.07},{"wavelength":7549,"flux":0.039},{"wavelength":7554,"flux":-0.148},{"wavelength":7558,"flux":0.023},{"wavelength":7563,"flux":-0.241},{"wavelength":7567,"flux":0.039},{"wavelength":7572,"flux":0.101},{"wavelength":7576,"flux":-0.07},{"wavelength":7581,"flux":-0.335},{"wavelength":7585,"flux":0.132},{"wavelength":7590,"flux":0.366},{"wavelength":7594,"flux":0.849},{"wavelength":7599,"flux":0.755},{"wavelength":7603,"flux":-0.428},{"wavelength":7608,"flux":-0.164},{"wavelength":7612,"flux":0.101},{"wavelength":7617,"flux":-0.288},{"wavelength":7621,"flux":0.273},{"wavelength":7626,"flux":0.444},{"wavelength":7630,"flux":-0.179},{"wavelength":7635,"flux":-0.086},{"wavelength":7639,"flux":0.195},{"wavelength":7644,"flux":0.444},{"wavelength":7648,"flux":0.319},{"wavelength":7653,"flux":-0.35},{"wavelength":7657,"flux":0.07},{"wavelength":7662,"flux":0.452},{"wavelength":7666,"flux":-0.039},{"wavelength":7671,"flux":-0.241},{"wavelength":7675,"flux":0.07},{"wavelength":7680,"flux":-0.039},{"wavelength":7684,"flux":0.179},{"wavelength":7689,"flux":0.335},{"wavelength":7693,"flux":-0.078},{"wavelength":7698,"flux":0.039},{"wavelength":7702,"flux":0.304},{"wavelength":7707,"flux":-0.125},{"wavelength":7710,"flux":0.833},{"wavelength":7714,"flux":0.74},{"wavelength":7719,"flux":0.257},{"wavelength":7723,"flux":-0.234},{"wavelength":7728,"flux":0.039},{"wavelength":7732,"flux":0.117},{"wavelength":7737,"flux":0.382},{"wavelength":7741,"flux":0.086},{"wavelength":7745,"flux":0.584},{"wavelength":7750,"flux":0.117},{"wavelength":7755,"flux":-0.413},{"wavelength":7759,"flux":0.273},{"wavelength":7764,"flux":-0.039},{"wavelength":7770,"flux":-0.35},{"wavelength":7774,"flux":0.654},{"wavelength":7778,"flux":0.335},{"wavelength":7783,"flux":0.117},{"wavelength":7787,"flux":0.055},{"wavelength":7792,"flux":0.257},{"wavelength":7796,"flux":0.023},{"wavelength":7801,"flux":0.195},{"wavelength":7805,"flux":-0.023},{"wavelength":7810,"flux":-0.179},{"wavelength":7814,"flux":0.117},{"wavelength":7819,"flux":0.569},{"wavelength":7823,"flux":0.117},{"wavelength":7828,"flux":0.273},{"wavelength":7832,"flux":0.179},{"wavelength":7837,"flux":0.21},{"wavelength":7841,"flux":0.179},{"wavelength":7846,"flux":-0.086},{"wavelength":7850,"flux":-0.07},{"wavelength":7855,"flux":-0.202},{"wavelength":7859,"flux":0.055},{"wavelength":7864,"flux":-0.039},{"wavelength":7868,"flux":0.023},{"wavelength":7873,"flux":0.093},{"wavelength":7877,"flux":-0.101},{"wavelength":7882,"flux":0.07},{"wavelength":7886,"flux":0.226},{"wavelength":7891,"flux":0.023},{"wavelength":7895,"flux":-0.039},{"wavelength":7900,"flux":0.226},{"wavelength":7904,"flux":-0.296},{"wavelength":7909,"flux":0.195},{"wavelength":7913,"flux":0.187},{"wavelength":7918,"flux":-0.195},{"wavelength":7922,"flux":0.639},{"wavelength":7927,"flux":0.156},{"wavelength":7931,"flux":0.148},{"wavelength":7936,"flux":0.148},{"wavelength":7940,"flux":0.304},{"wavelength":7945,"flux":0.023},{"wavelength":7949,"flux":0.179},{"wavelength":7954,"flux":0.132},{"wavelength":7958,"flux":0.265},{"wavelength":7963,"flux":-0.296},{"wavelength":7967,"flux":0.6},{"wavelength":7972,"flux":0.117},{"wavelength":7976,"flux":0.358},{"wavelength":7981,"flux":0.483},{"wavelength":7985,"flux":-0.039},{"wavelength":7990,"flux":-0.008},{"wavelength":7994,"flux":-0.195},{"wavelength":7999,"flux":-0.226},{"wavelength":8003,"flux":0.086},{"wavelength":8008,"flux":-0.039},{"wavelength":8012,"flux":-0.273},{"wavelength":8017,"flux":-0.117},{"wavelength":8021,"flux":0.117},{"wavelength":8026,"flux":0.296},{"wavelength":8030,"flux":-0.257},{"wavelength":8035,"flux":0.039},{"wavelength":8039,"flux":-0.148},{"wavelength":8043,"flux":0.055},{"wavelength":8048,"flux":-0.195},{"wavelength":8052,"flux":0.07},{"wavelength":8057,"flux":-0.343},{"wavelength":8061,"flux":0.055},{"wavelength":8066,"flux":0.117},{"wavelength":8070,"flux":-0.008},{"wavelength":8075,"flux":-0.023},{"wavelength":8079,"flux":0.14},{"wavelength":8084,"flux":-0.07},{"wavelength":8088,"flux":0.187},{"wavelength":8093,"flux":0.195},{"wavelength":8097,"flux":0.101},{"wavelength":8102,"flux":0.179},{"wavelength":8106,"flux":0.148},{"wavelength":8111,"flux":0.101},{"wavelength":8115,"flux":0.444},{"wavelength":8120,"flux":-0.055},{"wavelength":8124,"flux":0.039},{"wavelength":8129,"flux":-0.023},{"wavelength":8133,"flux":-0.35},{"wavelength":8138,"flux":0.117},{"wavelength":8142,"flux":0.156},{"wavelength":8147,"flux":-0.07},{"wavelength":8151,"flux":0.14},{"wavelength":8156,"flux":0.039},{"wavelength":8160,"flux":0.117},{"wavelength":8165,"flux":-0.164},{"wavelength":8169,"flux":0.07},{"wavelength":8174,"flux":-0.039},{"wavelength":8178,"flux":0.039},{"wavelength":8183,"flux":0.226},{"wavelength":8187,"flux":0.421},{"wavelength":8192,"flux":0.273},{"wavelength":8196,"flux":-0.039},{"wavelength":8201,"flux":0.055},{"wavelength":8205,"flux":0.202},{"wavelength":8210,"flux":-0.023},{"wavelength":8214,"flux":0.086},{"wavelength":8219,"flux":0.055},{"wavelength":8224,"flux":0.086},{"wavelength":8229,"flux":0.319},{"wavelength":8234,"flux":-0.117},{"wavelength":8240,"flux":0.023},{"wavelength":8246,"flux":-0.117},{"wavelength":8251,"flux":0.047},{"wavelength":8256,"flux":0.039},{"wavelength":8260,"flux":-0.055},{"wavelength":8265,"flux":0.055},{"wavelength":8270,"flux":0.117},{"wavelength":8276,"flux":0.265},{"wavelength":8281,"flux":-0.164},{"wavelength":8285,"flux":-0.592},{"wavelength":8289,"flux":0.241},{"wavelength":8294,"flux":-0.195},{"wavelength":8299,"flux":0.46},{"wavelength":8304,"flux":0.646},{"wavelength":8308,"flux":0.779},{"wavelength":8312,"flux":-0.14},{"wavelength":8318,"flux":0.101},{"wavelength":8322,"flux":-0.117},{"wavelength":8327,"flux":0.023},{"wavelength":8332,"flux":-0.101},{"wavelength":8337,"flux":0.008},{"wavelength":8341,"flux":0.327},{"wavelength":8346,"flux":-0.039},{"wavelength":8350,"flux":-0.545},{"wavelength":8355,"flux":0.117},{"wavelength":8360,"flux":-0.132},{"wavelength":8365,"flux":-0.039},{"wavelength":8370,"flux":0.101},{"wavelength":8375,"flux":0.039},{"wavelength":8378,"flux":0.428},{"wavelength":8382,"flux":-0.218},{"wavelength":8386,"flux":-0.008},{"wavelength":8391,"flux":-0.164},{"wavelength":8395,"flux":-0.07},{"wavelength":8399,"flux":-0.249},{"wavelength":8404,"flux":0.257},{"wavelength":8408,"flux":0.101},{"wavelength":8411,"flux":-0.366},{"wavelength":8415,"flux":0.187},{"wavelength":8420,"flux":-0.273},{"wavelength":8425,"flux":-0.148},{"wavelength":8430,"flux":-0.257},{"wavelength":8434,"flux":0.008},{"wavelength":8438,"flux":-0.164},{"wavelength":8443,"flux":-0.21},{"wavelength":8447,"flux":-0.569},{"wavelength":8451,"flux":-0.257},{"wavelength":8457,"flux":-0.078},{"wavelength":8462,"flux":-0.537},{"wavelength":8467,"flux":0.179},{"wavelength":8472,"flux":0.249},{"wavelength":8476,"flux":0.07},{"wavelength":8480,"flux":0.343},{"wavelength":8485,"flux":0.117},{"wavelength":8489,"flux":0.023},{"wavelength":8493,"flux":-0.101},{"wavelength":8498,"flux":0.055},{"wavelength":8502,"flux":-0.35},{"wavelength":8506,"flux":-0.086},{"wavelength":8511,"flux":0.117},{"wavelength":8517,"flux":-0.179},{"wavelength":8521,"flux":0.039},{"wavelength":8527,"flux":0.249},{"wavelength":8531,"flux":-0.008},{"wavelength":8535,"flux":-0.358},{"wavelength":8540,"flux":-0.062},{"wavelength":8544,"flux":-0.467},{"wavelength":8548,"flux":-0.101},{"wavelength":8553,"flux":-0.241},{"wavelength":8557,"flux":0.086},{"wavelength":8561,"flux":-0.241},{"wavelength":8566,"flux":-0.164},{"wavelength":8570,"flux":0.117},{"wavelength":8574,"flux":0.14},{"wavelength":8579,"flux":-0.039},{"wavelength":8583,"flux":0.358},{"wavelength":8587,"flux":0.039},{"wavelength":8592,"flux":-0.234},{"wavelength":8596,"flux":0.086},{"wavelength":8600,"flux":-0.296},{"wavelength":8605,"flux":-0.039},{"wavelength":8609,"flux":0.6},{"wavelength":8614,"flux":-0.086},{"wavelength":8618,"flux":0.607},{"wavelength":8622,"flux":-0.07},{"wavelength":8627,"flux":0.615},{"wavelength":8631,"flux":-0.335},{"wavelength":8635,"flux":0.07},{"wavelength":8640,"flux":-0.086},{"wavelength":8644,"flux":0.312},{"wavelength":8648,"flux":-0.537},{"wavelength":8653,"flux":0.055},{"wavelength":8657,"flux":0.693},{"wavelength":8661,"flux":-0.008},{"wavelength":8666,"flux":-0.491},{"wavelength":8670,"flux":0.055},{"wavelength":8674,"flux":0.584},{"wavelength":8679,"flux":0.117},{"wavelength":8683,"flux":0.241},{"wavelength":8687,"flux":0.701},{"wavelength":8692,"flux":0.273},{"wavelength":8696,"flux":0.101},{"wavelength":8700,"flux":-0.288},{"wavelength":8705,"flux":-0.195},{"wavelength":8709,"flux":-0.444},{"wavelength":8713,"flux":-0.07},{"wavelength":8718,"flux":0.062},{"wavelength":8722,"flux":0.179},{"wavelength":8726,"flux":0.382},{"wavelength":8731,"flux":0.366},{"wavelength":8735,"flux":0.117},{"wavelength":8739,"flux":-0.148},{"wavelength":8744,"flux":0.319},{"wavelength":8748,"flux":0.234},{"wavelength":8752,"flux":-0.039},{"wavelength":8757,"flux":1.09},{"wavelength":8761,"flux":0.53},{"wavelength":8765,"flux":0.117},{"wavelength":8770,"flux":-0.086},{"wavelength":8774,"flux":0.171},{"wavelength":8778,"flux":0.164},{"wavelength":8783,"flux":0.039},{"wavelength":8787,"flux":-0.389},{"wavelength":8792,"flux":0.117},{"wavelength":8796,"flux":0.561},{"wavelength":8800,"flux":-0.21},{"wavelength":8805,"flux":0.117},{"wavelength":8809,"flux":-0.039},{"wavelength":8813,"flux":0.257},{"wavelength":8818,"flux":-0.07},{"wavelength":8822,"flux":-0.117},{"wavelength":8826,"flux":0.257},{"wavelength":8831,"flux":-0.444},{"wavelength":8835,"flux":0.055},{"wavelength":8839,"flux":0.405},{"wavelength":8844,"flux":-0.241},{"wavelength":8848,"flux":0.101},{"wavelength":8852,"flux":0.522},{"wavelength":8857,"flux":-0.039},{"wavelength":8861,"flux":0.74},{"wavelength":8865,"flux":0.273},{"wavelength":8870,"flux":-0.226},{"wavelength":8874,"flux":0.522},{"wavelength":8878,"flux":-0.506},{"wavelength":8883,"flux":0.039},{"wavelength":8887,"flux":0.475},{"wavelength":8891,"flux":-0.086},{"wavelength":8896,"flux":-0.023},{"wavelength":8900,"flux":0.171},{"wavelength":8904,"flux":-0.101},{"wavelength":8909,"flux":-0.444},{"wavelength":8913,"flux":-0.273},{"wavelength":8918,"flux":-0.623},{"wavelength":8922,"flux":-0.195},{"wavelength":8926,"flux":0.055},{"wavelength":8931,"flux":0.257},{"wavelength":8935,"flux":-0.07},{"wavelength":8939,"flux":-0.335},{"wavelength":8944,"flux":0.117},{"wavelength":8948,"flux":0.039},{"wavelength":8952,"flux":0.265},{"wavelength":8957,"flux":-0.031},{"wavelength":8961,"flux":0.117},{"wavelength":8965,"flux":0.039},{"wavelength":8970,"flux":0.234},{"wavelength":8974,"flux":-0.039},{"wavelength":8978,"flux":0.117},{"wavelength":8983,"flux":0.6},{"wavelength":8987,"flux":0.117},{"wavelength":8991,"flux":-0.234},{"wavelength":8996,"flux":-0.382},{"wavelength":9000,"flux":0.055},{"wavelength":9004,"flux":-0.14},{"wavelength":9009,"flux":0.039},{"wavelength":9013,"flux":0.055},{"wavelength":9017,"flux":0.179},{"wavelength":9022,"flux":0.319},{"wavelength":9026,"flux":-0.156},{"wavelength":9030,"flux":0.273},{"wavelength":9035,"flux":0.202},{"wavelength":9039,"flux":0.319},{"wavelength":9043,"flux":0.88},{"wavelength":9048,"flux":0.343},{"wavelength":9052,"flux":-0.039},{"wavelength":9056,"flux":-0.07},{"wavelength":9061,"flux":0.117},{"wavelength":9065,"flux":-0.148},{"wavelength":9069,"flux":0.21},{"wavelength":9074,"flux":0.117},{"wavelength":9078,"flux":0.195},{"wavelength":9083,"flux":0.086},{"wavelength":9087,"flux":0.569},{"wavelength":9091,"flux":-0.179},{"wavelength":9096,"flux":-0.101},{"wavelength":9100,"flux":0.039},{"wavelength":9104,"flux":0.257},{"wavelength":9109,"flux":-0.101},{"wavelength":9113,"flux":0.405},{"wavelength":9117,"flux":0.319},{"wavelength":9122,"flux":0.405},{"wavelength":9126,"flux":-0.156},{"wavelength":9130,"flux":0.179},{"wavelength":9135,"flux":-0.195},{"wavelength":9139,"flux":-0.039},{"wavelength":9143,"flux":0.296},{"wavelength":9148,"flux":-0.257},{"wavelength":9152,"flux":-0.592},{"wavelength":9156,"flux":-0.304},{"wavelength":9161,"flux":0.055},{"wavelength":9165,"flux":0.117},{"wavelength":9169,"flux":-0.257},{"wavelength":9174,"flux":0.117},{"wavelength":9178,"flux":-0.21},{"wavelength":9182,"flux":-0.218},{"wavelength":9187,"flux":-0.101},{"wavelength":9191,"flux":-0.055},{"wavelength":9195,"flux":0.117},{"wavelength":9200,"flux":-0.055},{"wavelength":9204,"flux":0.179},{"wavelength":9208,"flux":-0.039},{"wavelength":9213,"flux":0.117},{"wavelength":9217,"flux":0.327},{"wavelength":9221,"flux":0.132},{"wavelength":9226,"flux":0.008},{"wavelength":9230,"flux":-0.117},{"wavelength":9235,"flux":-0.265},{"wavelength":9239,"flux":-0.086},{"wavelength":9243,"flux":0.241},{"wavelength":9248,"flux":-0.273},{"wavelength":9252,"flux":0.226},{"wavelength":9256,"flux":-0.187},{"wavelength":9261,"flux":-0.296},{"wavelength":9265,"flux":0.226},{"wavelength":9269,"flux":-0.304},{"wavelength":9274,"flux":0.218},{"wavelength":9278,"flux":0.117},{"wavelength":9282,"flux":0.234},{"wavelength":9287,"flux":-0.304},{"wavelength":9291,"flux":0.288},{"wavelength":9295,"flux":0.3}
    ]
  },
  "layer": [
    {
      "data": {"name": "sky"},
      "mark": {"type": "line", "color": "#008000", "strokeWidth": 1.4, "clip": true},
      "encoding": {
        "x": {"field": "wavelength", "type": "quantitative", "scale": {"domain": [4751, 9298], "nice": false, "zero": false},
          "axis": {"title": "Wavelength", "values": [5000, 6000, 7000, 8000, 9000], "format": "d", "labelFontSize": 27, "titleFontSize": 32, "labelPadding": 16, "titlePadding": 6}},
        "y": {"field": "sigma", "type": "quantitative", "scale": {"domain": [-0.734, 1.641], "nice": false, "zero": false},
          "axis": {"title": "10⁻¹⁸ erg s⁻¹ cm⁻² Å⁻¹", "values": [-0.5, 0, 0.5, 1, 1.5], "format": ".1f", "labelFontSize": 34, "titleFontSize": 46, "labelPadding": 17, "titlePadding": 16}}
      }
    },
    {
      "data": {"values": [{"level": 0}]},
      "mark": {"type": "rule", "color": "#0000ff", "strokeWidth": 5},
      "encoding": {
        "y": {"field": "level", "type": "quantitative"}
      }
    },
    {
      "data": {"name": "flux"},
      "mark": {"type": "line", "color": "black", "strokeWidth": 4, "clip": true},
      "encoding": {
        "x": {"field": "wavelength", "type": "quantitative"},
        "y": {"field": "flux", "type": "quantitative"}
      }
    }
  ]
}
